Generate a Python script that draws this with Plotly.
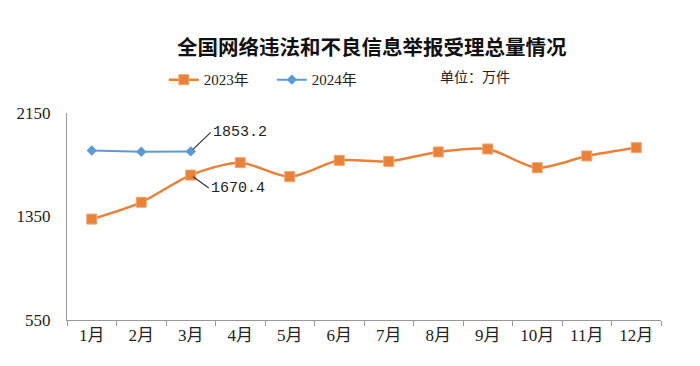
import plotly.graph_objects as go

months = ["1月", "2月", "3月", "4月", "5月", "6月", "7月", "8月", "9月", "10月", "11月", "12月"]
v2023 = [1330, 1460, 1670.4, 1766, 1658, 1784, 1776, 1849, 1872, 1727, 1818, 1882]
months2024 = ["1月", "2月", "3月"]
v2024 = [1860, 1850, 1853.2]
yticks = [550, 1350, 2150]

title = "全国网络违法和不良信息举报受理总量情况"
unit = "单位：万件"

orange = "#E8823A"
blue = "#5B9BD5"
serif = "Liberation Serif, Times New Roman, Noto Sans CJK SC"
mono = "Liberation Mono, DejaVu Sans Mono"

fig = go.Figure()
fig.add_trace(go.Scatter(
    x=months, y=v2023, name="2023年", mode="lines+markers",
    line=dict(color=orange, width=2.5, shape="spline", smoothing=0.8),
    marker=dict(symbol="square", size=10, color=orange,
                line=dict(color="#F2A46A", width=1)),
))
fig.add_trace(go.Scatter(
    x=months2024, y=v2024, name="2024年", mode="lines+markers",
    line=dict(color=blue, width=2),
    marker=dict(symbol="diamond", size=8, color=blue),
))

fig.add_annotation(x=months2024[2], y=v2024[2], text=f"{v2024[2]:.1f}",
                   showarrow=True, arrowhead=0, arrowwidth=1.2, arrowcolor="#333",
                   ax=20, ay=-19, xanchor="left", standoff=3,
                   font=dict(family=mono, size=15, color="#222"))
fig.add_annotation(x=months[2], y=v2023[2], text=f"{v2023[2]:.1f}",
                   showarrow=True, arrowhead=0, arrowwidth=1.2, arrowcolor="#333",
                   ax=18, ay=13, xanchor="left", standoff=3,
                   font=dict(family=mono, size=15, color="#222"))
fig.add_annotation(xref="paper", yref="paper", x=0.749, y=1.238, text=unit,
                   showarrow=False, font=dict(family="Noto Sans CJK SC", size=14, color="#222"))

fig.update_layout(
    width=700, height=366,
    margin=dict(l=67, r=39, t=113, b=46, autoexpand=False),
    paper_bgcolor="white", plot_bgcolor="white",
    title=dict(text=f"<b>{title}</b>", x=0.531, xanchor="center", y=0.868, yanchor="middle",
               font=dict(family="Noto Sans CJK SC", size=20.5, color="#111")),
    showlegend=True,
    legend=dict(orientation="h", x=0.163, xanchor="left", y=1.16, yanchor="middle",
                font=dict(family=serif, size=15, color="#222"),
                bgcolor="rgba(0,0,0,0)", itemwidth=30, entrywidth=63),
    xaxis=dict(categoryorder="array", categoryarray=months, automargin=False,
               range=[-0.5, len(months) - 0.5],
               showline=True, linecolor="#999", linewidth=1,
               ticks="outside", tickson="boundaries", ticklen=5, tickcolor="#999",
               showgrid=False, tickfont=dict(family=serif, size=17, color="#222")),
    yaxis=dict(range=[550, 2150], tickvals=yticks, showline=True, linecolor="#999",
               linewidth=1, showgrid=False, zeroline=False, ticks="", automargin=False,
               tickfont=dict(family=serif, size=17, color="#222"), ticklabelstandoff=12),
)

fig.write_html("out.html", config={"displayModeBar": False},
               post_script="document.body.style.margin='0';")
